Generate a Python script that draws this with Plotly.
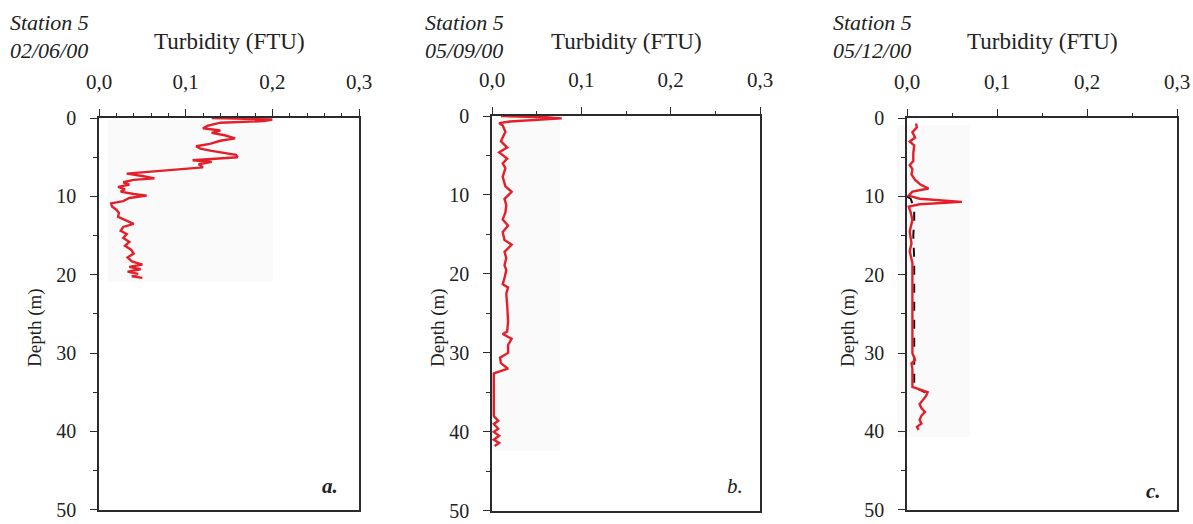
import plotly.graph_objects as go

# ---------------- data ----------------
# Panel a: 02/06/00
depth_a = [0.0, 0.2, 0.4, 0.6, 1.0, 1.3, 1.6, 1.9, 2.2, 2.6, 2.9, 3.3, 3.6, 3.9, 4.2, 4.5, 4.7, 5.0,
           5.2, 5.4, 5.6, 5.9, 6.3, 6.6, 6.9, 7.1, 7.4, 7.7, 7.9, 8.2, 8.5, 8.8, 9.1, 9.4, 9.7, 9.9,
           10.2, 10.6, 10.9, 11.3, 11.7, 12.1, 12.6, 13.0, 13.5, 13.9, 14.4, 14.8, 15.3, 15.8, 16.3,
           16.8, 17.3, 17.8, 18.3, 18.7, 19.0, 19.3, 19.6, 19.9, 20.2, 20.4]
turb_a = [0.13, 0.20, 0.19, 0.14, 0.125, 0.12, 0.14, 0.13, 0.145, 0.157, 0.14, 0.128, 0.112, 0.117,
          0.13, 0.145, 0.158, 0.16, 0.135, 0.108, 0.13, 0.115, 0.12, 0.088, 0.055, 0.032, 0.05, 0.064,
          0.04, 0.028, 0.035, 0.022, 0.03, 0.025, 0.04, 0.055, 0.035, 0.028, 0.014, 0.015, 0.02, 0.023,
          0.022, 0.03, 0.04, 0.028, 0.025, 0.032, 0.028, 0.035, 0.03, 0.037, 0.04, 0.033, 0.038, 0.05,
          0.035, 0.048, 0.033, 0.045, 0.038, 0.05]

# Panel b: 05/09/00
depth_b = [0.0, 0.15, 0.3, 0.5, 0.7, 0.9, 1.2, 2.0, 3.2, 4.0, 4.6, 5.4, 6.0, 6.6, 7.7, 8.9, 9.6, 10.5,
           11.3, 12.2, 13.1, 13.9, 14.7, 15.7, 16.3, 17.2, 18.0, 18.9, 19.5, 20.5, 21.3, 21.7, 22.5,
           24.0, 26.0, 27.3, 27.6, 28.2, 29.0, 30.0, 30.6, 31.3, 32.0, 32.6, 34.0, 36.0, 38.0, 38.6,
           39.0, 39.6, 40.0, 40.5, 41.0, 41.4, 41.8]
turb_b = [0.01, 0.06, 0.078, 0.05, 0.02, 0.008, 0.012, 0.015, 0.01, 0.017, 0.008, 0.017, 0.012, 0.015,
          0.012, 0.015, 0.022, 0.014, 0.016, 0.015, 0.012, 0.018, 0.012, 0.014, 0.022, 0.014, 0.016,
          0.014, 0.016, 0.014, 0.012, 0.018, 0.016, 0.017, 0.018, 0.017, 0.012, 0.022, 0.018, 0.018,
          0.009, 0.01, 0.018, 0.002, 0.002, 0.002, 0.002, 0.007, 0.002, 0.007, 0.002, 0.008, 0.002,
          0.008, 0.003]

# Panel c: 05/12/00
depth_c = [0.7, 1.2, 1.8, 2.5, 3.0, 3.5, 4.5, 5.5, 6.0, 6.5, 7.2, 7.9, 8.5, 9.0, 9.4, 9.9, 10.3, 10.7,
           11.0, 11.3, 12.0, 13.0, 14.5, 16.0, 17.0, 18.5, 20.0, 25.0, 30.0, 30.9, 31.3, 32.0, 34.3,
           35.0, 35.5, 36.5, 37.0, 37.5, 38.0, 38.5, 39.0, 39.4, 39.8]
turb_c = [0.010, 0.011, 0.006, 0.009, 0.003, 0.008, 0.007, 0.007, 0.003, 0.006, 0.005, 0.009, 0.015,
          0.024, 0.006, 0.002, 0.014, 0.061, 0.014, 0.002, 0.004, 0.006, 0.003, 0.005, 0.003, 0.006,
          0.006, 0.006, 0.006, 0.009, 0.005, 0.006, 0.006, 0.023, 0.021, 0.014, 0.016, 0.02, 0.016,
          0.014, 0.016, 0.011, 0.013]
# second (black) profile in panel c, mostly hidden under the red one
depth_c_black = [10.0, 10.3, 11.5, 13.0, 15.0, 18.0, 22.0, 26.0, 30.0, 34.3, 35.0]
turb_c_black = [0.0, 0.004, 0.008, 0.008, 0.007, 0.008, 0.008, 0.008, 0.008, 0.008, 0.02]

panel_dates = ["02/06/00", "05/09/00", "05/12/00"]
panel_letters = ["<b><i>a.</i></b>", "<i>b.</i>", "<b><i>c.</i></b>"]
x_ticks = [0.0, 0.1, 0.2, 0.3]
y_ticks = [0, 10, 20, 30, 40, 50]

# ---------------- layout geometry (pixels) ----------------
W, H = 1193, 524
boxes = [(99, 359, 118, 510), (492, 760, 116, 511), (907, 1177, 118, 510)]
x_minor = [0.02, 0.05, 0.05]
station_x = [8, 423, 831]
depth_title_x = [35, 438, 848]
letter_pos = [(330, 486), (735, 486), (1153, 491)]
scan_bg = [(108, 273, 120, 282), (493, 560, 118, 451), (897, 970, 125, 437)]

def px(x):
    return x / W

def py(y):
    return 1 - y / H

RED = "#e3202a"
AX = "#2b2b2b"
FONT = "Liberation Serif"

fig = go.Figure()

series = [(turb_a, depth_a), (turb_b, depth_b), (turb_c, depth_c)]

# black profile first (underneath)
fig.add_trace(go.Scatter(x=turb_c_black, y=depth_c_black, mode="lines",
                         line=dict(color="#111111", width=2, dash="dash"),
                         xaxis="x3", yaxis="y3", showlegend=False, hoverinfo="skip"))

for i, (xv, yv) in enumerate(series):
    xa = "x" if i == 0 else f"x{i+1}"
    ya = "y" if i == 0 else f"y{i+1}"
    fig.add_trace(go.Scatter(x=xv, y=yv, mode="lines",
                             line=dict(color=RED, width=2.4),
                             xaxis=xa, yaxis=ya, showlegend=False))

layout = dict(
    width=W, height=H, autosize=False,
    margin=dict(l=0, r=0, t=0, b=0, autoexpand=False),
    paper_bgcolor="white", plot_bgcolor="rgba(0,0,0,0)",
    separators=",.",
    font=dict(family=FONT, size=20, color="#222"),
    showlegend=False,
)

annotations = []
shapes = []
for i, (l, r, t, b) in enumerate(boxes):
    sfx = "" if i == 0 else str(i + 1)
    layout["xaxis" + sfx] = dict(
        domain=[px(l), px(r)], anchor="y" + sfx, side="top",
        range=[0, 0.3], tickvals=x_ticks, tickformat=".1f",
        ticks="outside", ticklen=7, tickwidth=1.3, tickcolor=AX,
        minor=dict(dtick=x_minor[i], tick0=0, ticks="outside", ticklen=3, tickwidth=1, tickcolor=AX),
        showline=True, linecolor=AX, linewidth=1.5, mirror=True,
        showgrid=False, zeroline=False, ticklabelstandoff=12, automargin=False,
        ticklabeloverflow="allow",
        tickfont=dict(family=FONT, size=21, color="#222"),
        fixedrange=True,
    )
    layout["yaxis" + sfx] = dict(
        domain=[py(b), py(t)], anchor="x" + sfx,
        range=[50.02, 0], tickvals=y_ticks,
        ticks="outside", ticklen=7, tickwidth=1.3, tickcolor=AX,
        minor=dict(dtick=5, tick0=0, ticks="outside", ticklen=4, tickwidth=1, tickcolor=AX),
        showline=True, linecolor=AX, linewidth=1.5, mirror=True,
        showgrid=False, zeroline=False, ticklabelstandoff=10, automargin=False,
        ticklabeloverflow="allow",
        tickfont=dict(family=FONT, size=20, color="#222"),
        fixedrange=True,
    )
    cx = (l + r) / 2
    annotations.append(dict(text="Turbidity (FTU)", x=px(cx), y=py(42), xref="paper", yref="paper",
                            xanchor="center", yanchor="middle", showarrow=False,
                            font=dict(family=FONT, size=23, color="#222")))
    annotations.append(dict(text="<i>Station 5</i>", x=px(station_x[i]), y=py(23), xref="paper",
                            yref="paper", xanchor="left", yanchor="middle", showarrow=False,
                            font=dict(family=FONT, size=22, color="#222")))
    annotations.append(dict(text="<i>" + panel_dates[i] + "</i>", x=px(station_x[i]), y=py(51),
                            xref="paper", yref="paper", xanchor="left", yanchor="middle",
                            showarrow=False, font=dict(family=FONT, size=22, color="#222")))
    annotations.append(dict(text="Depth (m)", x=px(depth_title_x[i]), y=py(328), xref="paper",
                            yref="paper", xanchor="center", yanchor="middle", textangle=-90,
                            showarrow=False, font=dict(family=FONT, size=19, color="#222")))
    lx, ly = letter_pos[i]
    annotations.append(dict(text=panel_letters[i], x=px(lx), y=py(ly), xref="paper", yref="paper",
                            xanchor="center", yanchor="middle", showarrow=False,
                            font=dict(family=FONT, size=21, color="#222")))
    sl, sr, st, sb = scan_bg[i]
    shapes.append(dict(type="rect", xref="paper", yref="paper", x0=px(sl), x1=px(sr),
                       y0=py(sb), y1=py(st), fillcolor="#fafafa", line=dict(width=0),
                       layer="below"))

layout["annotations"] = annotations
layout["shapes"] = shapes
fig.update_layout(**layout)

fig.write_html("out.html", post_script="document.body.style.margin='0';")
